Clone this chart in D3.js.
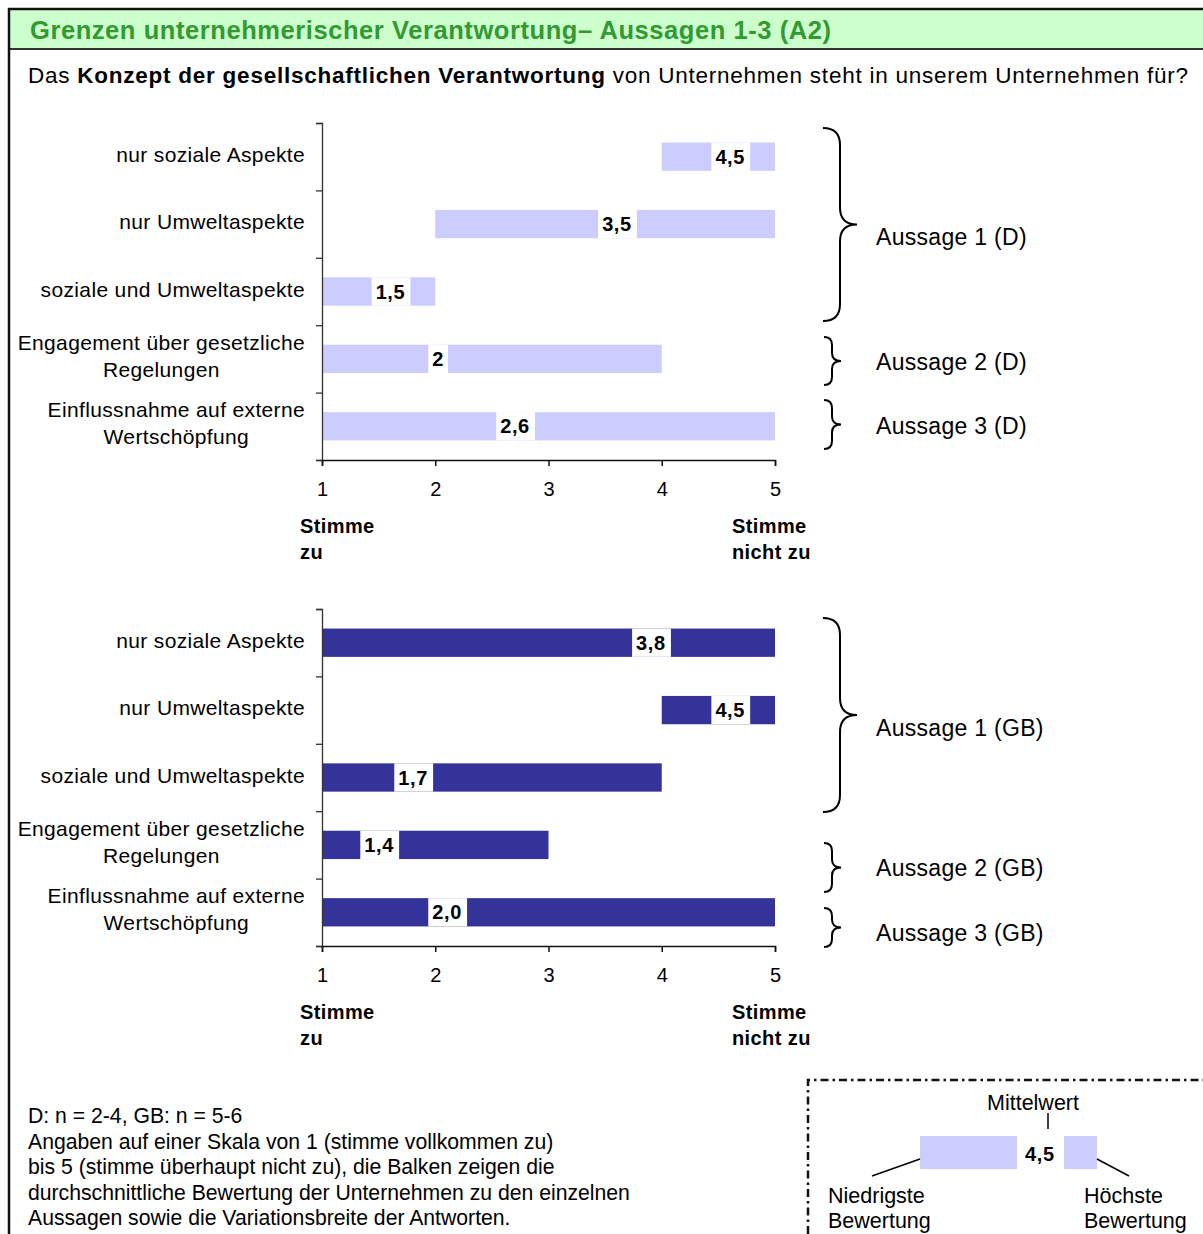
<!DOCTYPE html>
<html>
<head>
<meta charset="utf-8">
<script src="https://cdn.jsdelivr.net/npm/d3@7"></script>
<style>
  html, body { margin: 0; padding: 0; background: #fff; }
  svg { display: block; font-family: "Liberation Sans", Arial, Helvetica, sans-serif; }
</style>
</head>
<body>
<svg id="chart" width="1203" height="1234"></svg>
<script>
// Statement categories (multi-line labels as arrays of lines)
const categories = [
  ["nur soziale Aspekte"],
  ["nur Umweltaspekte"],
  ["soziale und Umweltaspekte"],
  ["Engagement über gesetzliche", "Regelungen"],
  ["Einflussnahme auf externe", "Wertschöpfung"]
];

// Germany (D): lowest rating, highest rating, mean
const minD  = [4, 2, 1, 1, 1];
const maxD  = [5, 5, 2, 4, 5];
const meanD = [4.5, 3.5, 1.5, 2, 2.6];

// Great Britain (GB): lowest rating, highest rating, mean
const minGB  = [1, 4, 1, 1, 1];
const maxGB  = [5, 5, 4, 3, 5];
const meanGB = [3.8, 4.5, 1.7, 1.4, 2.0];

// Scale ticks
const scaleTicks = [1, 2, 3, 4, 5];

// Statement group names
const groupsD  = ["Aussage 1 (D)", "Aussage 2 (D)", "Aussage 3 (D)"];
const groupsGB = ["Aussage 1 (GB)", "Aussage 2 (GB)", "Aussage 3 (GB)"];

const footnote = [
  "D: n = 2-4, GB: n = 5-6",
  "Angaben auf einer Skala von 1 (stimme vollkommen zu)",
  "bis 5 (stimme überhaupt nicht zu), die Balken zeigen die",
  "durchschnittliche Bewertung der Unternehmen zu den einzelnen",
  "Aussagen sowie die Variationsbreite der Antworten."
];

// Brace placement relative to each panel's top: [top, bottom, label baseline offset, big?]
const braceLayoutD  = [[5, 198, 122, true], [214, 262, 247, false], [277, 326, 311, false]];
const braceLayoutGB = [[9, 203, 127, true], [234, 283, 267, false], [299, 338, 332, false]];

const svg = d3.select("#chart");
const W = 1203, H = 1234;
svg.append("rect").attr("width", W).attr("height", H).attr("fill", "#fff");

// spread letters so a text element spans a given width
function fitWidth(sel, target) {
  const node = sel.node();
  const n = node.getNumberOfChars();
  const w = node.getComputedTextLength();
  if (n > 1) sel.attr("letter-spacing", ((target - w) / (n - 1)).toFixed(3));
}

// ---- frame and heading ----
svg.append("rect").attr("x", 9).attr("y", 9).attr("width", W).attr("height", 40)
  .attr("fill", "#ccffcc");
svg.append("line").attr("x1", 8).attr("x2", W).attr("y1", 9).attr("y2", 9)
  .attr("stroke", "#111").attr("stroke-width", 2.5);
svg.append("line").attr("x1", 8).attr("x2", W).attr("y1", 49).attr("y2", 49)
  .attr("stroke", "#333").attr("stroke-width", 2);
svg.append("line").attr("x1", 9).attr("x2", 9).attr("y1", 8).attr("y2", H)
  .attr("stroke", "#111").attr("stroke-width", 2.5);

const title = svg.append("text").attr("x", 30).attr("y", 38.5)
  .attr("font-size", 25.5).attr("font-weight", "bold").attr("fill", "#339933")
  .text("Grenzen unternehmerischer Verantwortung– Aussagen 1-3 (A2)");
fitWidth(title, 801);

const sub = svg.append("text").attr("x", 28).attr("y", 82.5).attr("font-size", 22.5).attr("fill", "#000");
sub.append("tspan").text("Das ");
sub.append("tspan").attr("font-weight", "bold").text("Konzept der gesellschaftlichen Verantwortung");
sub.append("tspan").text(" von Unternehmen steht in unserem Unternehmen für?");
fitWidth(sub, 1160);

// ---- brace path ----
function bracePath(x0, xs, xt, y0, y1, ym) {
  const r = xs - x0;
  return `M${x0},${y0} Q${xs},${y0} ${xs},${y0 + r} L${xs},${ym - r} Q${xs},${ym} ${xt},${ym}` +
         ` Q${xs},${ym} ${xs},${ym + r} L${xs},${y1 - r} Q${xs},${y1} ${x0},${y1}`;
}

// ---- one range-bar panel ----
function panel(top, mins, maxs, means, fmt, color, groups, braces) {
  const g = svg.append("g");
  const x = d3.scaleLinear().domain([1, 5]).range([322, 775]);
  const idx = d3.range(categories.length);
  const y = d3.scaleBand().domain(idx).range([top, top + 337]).paddingInner(0.58).paddingOuter(0.29);
  const yb = d3.scaleLinear().domain([0, categories.length]).range([top, top + 337]);

  // bars from lowest to highest rating
  g.selectAll("rect.bar").data(idx).join("rect").attr("class", "bar")
    .attr("x", i => x(mins[i])).attr("width", i => x(maxs[i]) - x(mins[i]))
    .attr("y", i => y(i)).attr("height", y.bandwidth())
    .attr("fill", color);

  // mean labels on a white box cutting the bar
  idx.forEach(i => {
    const lg = g.append("g");
    const bx = x(means[i]) - 7;
    const t = lg.append("text").attr("x", bx + 4).attr("y", y(i) + y.bandwidth() / 2 + 7)
      .attr("font-size", 20).attr("font-weight", "bold").attr("letter-spacing", 0.6).text(fmt(means[i]));
    const tw = t.node().getComputedTextLength() + 0.6 * (t.node().getNumberOfChars() - 1);
    lg.insert("rect", "text").attr("x", bx).attr("y", y(i))
      .attr("width", tw + 8).attr("height", y.bandwidth()).attr("fill", "#fff");
  });

  // y axis with ticks on category boundaries
  const ya = g.append("g").attr("transform", "translate(322,0)")
    .call(d3.axisLeft(yb).ticks(5).tickSize(6).tickFormat(""));
  ya.select(".domain").attr("stroke", "#333").attr("stroke-width", 1.3);
  ya.selectAll(".tick line").attr("stroke", "#333").attr("stroke-width", 1.3);

  // x axis
  const xa = g.append("g").attr("transform", `translate(0,${top + 337})`)
    .call(d3.axisBottom(x).tickValues(scaleTicks).tickSize(6).tickPadding(16).tickFormat(d3.format("d")));
  xa.select(".domain").attr("stroke", "#111").attr("stroke-width", 1.5);
  xa.selectAll(".tick line").attr("stroke", "#111").attr("stroke-width", 1.5);
  xa.selectAll(".tick text").attr("font-size", 20).attr("font-family", null).attr("fill", "#000");

  // category labels
  idx.forEach(i => {
    const lines = categories[i];
    const cy = y(i) + y.bandwidth() / 2;
    const t = g.append("text").attr("font-size", 21).attr("letter-spacing", 0.35).attr("fill", "#000");
    if (lines.length === 1) {
      t.attr("x", 305).attr("y", cy + 5).attr("text-anchor", "end").text(lines[0]);
    } else {
      const probe = g.append("text").attr("font-size", 21).attr("letter-spacing", 0.35).text(lines[0]);
      const w = probe.node().getBoundingClientRect().width;
      probe.remove();
      lines.forEach((ln, k) => {
        t.append("tspan").attr("x", 305 - w / 2).attr("y", cy - 9 + k * 27)
          .attr("text-anchor", "middle").text(ln);
      });
    }
  });

  // scale end captions
  const cap = [["Stimme", "zu", 300], ["Stimme", "nicht zu", 732]];
  cap.forEach(([a, b, cx]) => {
    const t = g.append("text").attr("font-size", 20).attr("font-weight", "bold").attr("letter-spacing", 0.4);
    t.append("tspan").attr("x", cx).attr("y", top + 410).text(a);
    t.append("tspan").attr("x", cx).attr("y", top + 436).text(b);
  });

  // braces grouping the statements
  groups.forEach((label, k) => {
    const [a, b, lb, big] = braces[k];
    const y0 = top + a, y1 = top + b, ym = (y0 + y1) / 2;
    const path = big ? bracePath(823, 840, 857, y0, y1, ym) : bracePath(824, 832, 841, y0, y1, ym);
    g.append("path").attr("d", path).attr("fill", "none").attr("stroke", "#000").attr("stroke-width", 2);
    g.append("text").attr("x", 876).attr("y", top + lb)
      .attr("font-size", 23).attr("letter-spacing", 0.3).text(label);
  });
}

const fmtD = v => String(v).replace(".", ",");
const fmtGB = v => v.toFixed(1).replace(".", ",");
panel(123, minD, maxD, meanD, fmtD, "#ccccff", groupsD, braceLayoutD);
panel(609, minGB, maxGB, meanGB, fmtGB, "#333399", groupsGB, braceLayoutGB);

// ---- footnote ----
const fn = svg.append("g");
footnote.forEach((ln, k) => {
  fn.append("text").attr("x", 28).attr("y", 1123 + k * 25.5).attr("font-size", 21.2).text(ln);
});

// ---- key box ----
const key = svg.append("g");
key.append("path").attr("d", `M808,${H} L808,1080 L${W},1080`)
  .attr("fill", "none").attr("stroke", "#111").attr("stroke-width", 2.5)
  .attr("stroke-dasharray", "8,4,2.5,4");
key.append("text").attr("x", 1033).attr("y", 1110).attr("text-anchor", "middle")
  .attr("font-size", 21.5).text("Mittelwert");
key.append("line").attr("x1", 1048).attr("x2", 1048).attr("y1", 1113).attr("y2", 1129)
  .attr("stroke", "#000").attr("stroke-width", 1.5);
key.append("rect").attr("x", 920).attr("y", 1136).attr("width", 97).attr("height", 33).attr("fill", "#ccccff");
key.append("rect").attr("x", 1064).attr("y", 1136).attr("width", 33).attr("height", 33).attr("fill", "#ccccff");
key.append("text").attr("x", 1025).attr("y", 1161).attr("font-size", 20).attr("font-weight", "bold")
  .attr("letter-spacing", 0.6).text("4,5");
key.append("line").attr("x1", 872).attr("y1", 1176).attr("x2", 920).attr("y2", 1159)
  .attr("stroke", "#000").attr("stroke-width", 1.5);
key.append("line").attr("x1", 1097).attr("y1", 1159).attr("x2", 1129).attr("y2", 1176)
  .attr("stroke", "#000").attr("stroke-width", 1.5);
[["Niedrigste", 828], ["Höchste", 1084]].forEach(([a, kx]) => {
  const t = key.append("text").attr("font-size", 21.5);
  t.append("tspan").attr("x", kx).attr("y", 1203).text(a);
  t.append("tspan").attr("x", kx).attr("y", 1228).text("Bewertung");
});
</script>
</body>
</html>
